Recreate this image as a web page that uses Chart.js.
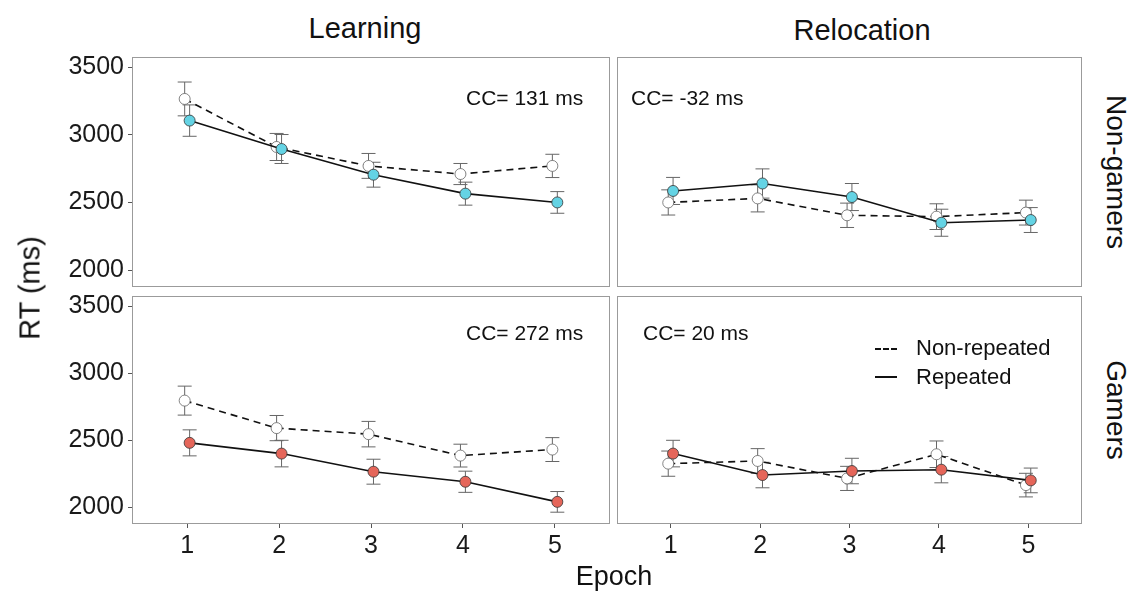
<!DOCTYPE html>
<html lang="en">
<head>
<meta charset="utf-8">
<title>RT по эпохам</title>
<script src="https://cdn.jsdelivr.net/npm/chart.js@4.4.1/dist/chart.umd.min.js"></script>
<style>
    html, body { margin: 0; padding: 0; background: #fff; }
    body {
        width: 1139px; height: 594px; position: relative; overflow: hidden;
        font-family: 'Liberation Sans', Arial, sans-serif; color: #111;
    }
    .panel { position: absolute; }
    .label { position: absolute; white-space: nowrap; line-height: 1; }
    .center { transform: translateX(-50%); }
    .rot { transform: translate(-50%, -50%) rotate(90deg); }
    .rot-left { transform: translate(-50%, -50%) rotate(-90deg); }
    .legend-line { position: absolute; width: 22px; height: 0; border-top: 2px solid #111; }
    .legend-line.dashed { border-top-style: dashed; }
</style>
</head>
<body>
    <canvas id="panel-ng-learn" class="panel" style="left:0px; top:56px;" width="611" height="232"></canvas>
    <canvas id="panel-ng-reloc" class="panel" style="left:616px; top:56px;" width="467" height="232"></canvas>
    <canvas id="panel-g-learn" class="panel" style="left:0px; top:295px;" width="611" height="269"></canvas>
    <canvas id="panel-g-reloc" class="panel" style="left:616px; top:295px;" width="467" height="269"></canvas>

    <div class="label center" style="left:365px; top:14px; font-size:29px;">Learning</div>
    <div class="label center" style="left:862px; top:16px; font-size:29px;">Relocation</div>
    <div class="label rot" style="left:1116px; top:172px; font-size:28px;">Non-gamers</div>
    <div class="label rot" style="left:1116px; top:410px; font-size:28px;">Gamers</div>
    <div class="label rot-left" style="left:30px; top:288px; font-size:29px;">RT (ms)</div>
    <div class="label center" style="left:614px; top:563px; font-size:27px;">Epoch</div>

    <div class="label" id="cc-ng-learn" style="left:466px; top:87px; font-size:21px;"></div>
    <div class="label" id="cc-ng-reloc" style="left:631px; top:87px; font-size:21px;"></div>
    <div class="label" id="cc-g-learn" style="left:466px; top:322px; font-size:21px;"></div>
    <div class="label" id="cc-g-reloc" style="left:643px; top:322px; font-size:21px;"></div>

    <div class="legend-line dashed" style="left:875px; top:348px;"></div>
    <div class="label" id="legend-nonrep" style="left:916px; top:337px; font-size:22px;"></div>
    <div class="legend-line" style="left:875px; top:376px;"></div>
    <div class="label" id="legend-rep" style="left:916px; top:366px; font-size:22px;"></div>

<script>
// Данные
const epochs = [1, 2, 3, 4, 5];
const yTicks = [2000, 2500, 3000, 3500];
const seriesLabels = ['Non-repeated', 'Repeated'];
const ccLabels = ['CC= 131 ms', 'CC= -32 ms', 'CC= 272 ms', 'CC= 20 ms'];

// Non-gamers, Learning
const ngLearnNonRep = [3265, 2910, 2770, 2710, 2770];
const ngLearnNonRepSe = [125, 100, 92, 78, 86];
const ngLearnRep = [3105, 2895, 2705, 2565, 2500];
const ngLearnRepSe = [116, 107, 92, 85, 80];

// Non-gamers, Relocation
const ngRelocNonRep = [2500, 2530, 2405, 2395, 2425];
const ngRelocNonRepSe = [93, 100, 90, 95, 92];
const ngRelocRep = [2585, 2640, 2540, 2350, 2370];
const ngRelocRepSe = [100, 108, 100, 100, 92];

// Gamers, Learning
const gLearnNonRep = [2795, 2590, 2545, 2385, 2430];
const gLearnNonRepSe = [108, 94, 95, 85, 89];
const gLearnRep = [2480, 2400, 2265, 2190, 2040];
const gLearnRepSe = [97, 99, 93, 79, 77];

// Gamers, Relocation
const gRelocNonRep = [2325, 2345, 2215, 2395, 2165];
const gRelocNonRepSe = [94, 92, 90, 99, 88];
const gRelocRep = [2400, 2240, 2270, 2280, 2200];
const gRelocRepSe = [99, 95, 95, 98, 92];

// Оформление
const DODGE = 0.027;
const CAP = 7;
const Y_AXIS_W = 132;
const X_AXIS_H = 40;
const CYAN = '#64d3e4';
const RED = '#e5665a';

Chart.defaults.font.family = "'Liberation Sans', Arial, sans-serif";
Chart.defaults.animation = false;

// Планки погрешностей под линиями и точками
const errorBarsPlugin = {
    id: 'errorBars',
    beforeDatasetsDraw(chart) {
        const ctx = chart.ctx;
        const yScale = chart.scales.y;
        ctx.save();
        ctx.strokeStyle = '#666';
        ctx.lineWidth = 1;
        chart.data.datasets.forEach((ds, di) => {
            const meta = chart.getDatasetMeta(di);
            meta.data.forEach((pt, i) => {
                const v = ds.data[i].y;
                const se = ds.errors[i];
                const yTop = yScale.getPixelForValue(v + se);
                const yBot = yScale.getPixelForValue(v - se);
                ctx.beginPath();
                ctx.moveTo(pt.x, yTop);
                ctx.lineTo(pt.x, yBot);
                ctx.moveTo(pt.x - CAP, yTop);
                ctx.lineTo(pt.x + CAP, yTop);
                ctx.moveTo(pt.x - CAP, yBot);
                ctx.lineTo(pt.x + CAP, yBot);
                ctx.stroke();
            });
        });
        ctx.restore();
    }
};

// Рамка панели
const framePlugin = {
    id: 'frame',
    afterDatasetsDraw(chart) {
        const { ctx, chartArea: a } = chart;
        ctx.save();
        ctx.strokeStyle = '#9b9b9b';
        ctx.lineWidth = 1;
        ctx.strokeRect(a.left + 0.5, a.top + 0.5, a.right - a.left - 1, a.bottom - a.top - 1);
        ctx.restore();
    }
};

// Создание одной панели
function createPanel(canvasId, nonRep, nonRepSe, rep, repSe, fillColor, showX, showY) {
    const canvas = document.getElementById(canvasId);

    const nonRepData = epochs.map((e, i) => ({ x: e - DODGE, y: nonRep[i] }));
    const repData = epochs.map((e, i) => ({ x: e + DODGE, y: rep[i] }));

    return new Chart(canvas, {
        type: 'line',
        data: {
            datasets: [
                {
                    label: seriesLabels[1],
                    data: repData,
                    errors: repSe,
                    borderColor: '#111',
                    borderWidth: 1.6,
                    pointRadius: 5.5,
                    pointBackgroundColor: fillColor,
                    pointBorderColor: '#333',
                    pointBorderWidth: 0.8,
                    tension: 0
                },
                {
                    label: seriesLabels[0],
                    data: nonRepData,
                    errors: nonRepSe,
                    borderColor: '#111',
                    borderWidth: 1.6,
                    borderDash: [7, 5],
                    pointRadius: 5.5,
                    pointBackgroundColor: '#fff',
                    pointBorderColor: '#666',
                    pointBorderWidth: 0.8,
                    tension: 0
                }
            ]
        },
        options: {
            responsive: false,
            layout: {
                autoPadding: false,
                padding: { top: 1, right: 1, bottom: showX ? 0 : 1, left: showY ? 0 : 1 }
            },
            plugins: {
                legend: { display: false },
                tooltip: { enabled: false }
            },
            scales: {
                x: {
                    type: 'linear',
                    min: 0.4,
                    max: 5.6,
                    display: showX,
                    afterBuildTicks: s => { s.ticks = epochs.map(v => ({ value: v })); },
                    afterFit: s => {
                        if (showX) s.height = X_AXIS_H;
                        s.paddingLeft = 0;
                        s.paddingRight = 0;
                    },
                    grid: { drawOnChartArea: false, drawTicks: true, tickLength: 4, color: '#555' },
                    border: { display: false },
                    ticks: { color: '#1a1a1a', font: { size: 25 }, padding: 3, maxRotation: 0 }
                },
                y: {
                    type: 'linear',
                    min: 1875,
                    max: 3575,
                    display: showY,
                    afterBuildTicks: s => { s.ticks = yTicks.map(v => ({ value: v })); },
                    afterFit: s => {
                        if (showY) s.width = Y_AXIS_W;
                        s.paddingTop = 0;
                        s.paddingBottom = 0;
                    },
                    grid: { drawOnChartArea: false, drawTicks: true, tickLength: 4, color: '#555' },
                    border: { display: false },
                    ticks: {
                        color: '#1a1a1a',
                        font: { size: 25 },
                        padding: 4,
                        callback: v => String(v)
                    }
                }
            }
        },
        plugins: [errorBarsPlugin, framePlugin]
    });
}

document.addEventListener('DOMContentLoaded', function() {
    createPanel('panel-ng-learn', ngLearnNonRep, ngLearnNonRepSe, ngLearnRep, ngLearnRepSe, CYAN, false, true);
    createPanel('panel-ng-reloc', ngRelocNonRep, ngRelocNonRepSe, ngRelocRep, ngRelocRepSe, CYAN, false, false);
    createPanel('panel-g-learn', gLearnNonRep, gLearnNonRepSe, gLearnRep, gLearnRepSe, RED, true, true);
    createPanel('panel-g-reloc', gRelocNonRep, gRelocNonRepSe, gRelocRep, gRelocRepSe, RED, true, false);

    // Подписи CC и легенда
    document.getElementById('cc-ng-learn').textContent = ccLabels[0];
    document.getElementById('cc-ng-reloc').textContent = ccLabels[1];
    document.getElementById('cc-g-learn').textContent = ccLabels[2];
    document.getElementById('cc-g-reloc').textContent = ccLabels[3];
    document.getElementById('legend-nonrep').textContent = seriesLabels[0];
    document.getElementById('legend-rep').textContent = seriesLabels[1];
});
</script>
</body>
</html>
